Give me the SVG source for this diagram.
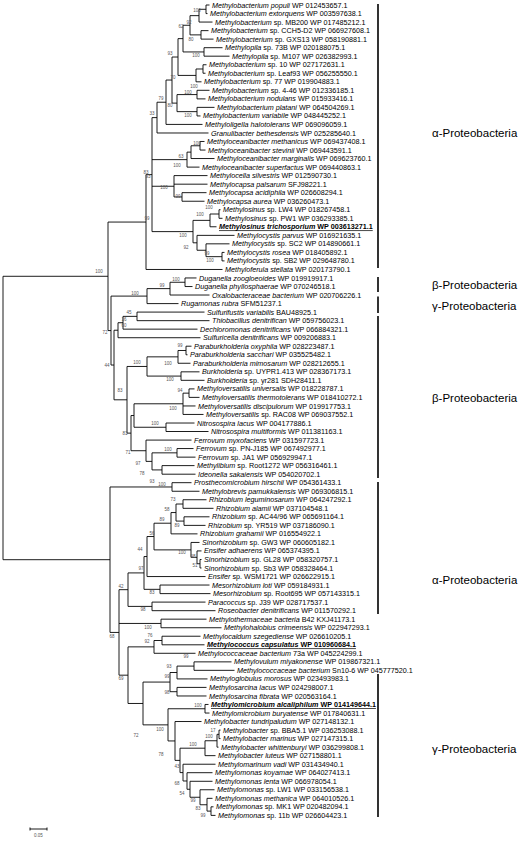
<svg xmlns="http://www.w3.org/2000/svg" width="522" height="844" viewBox="0 0 522 844">
<style>
.b{fill:none;stroke:#000;stroke-width:0.9}
.bar{fill:none;stroke:#000;stroke-width:1.6}
.t{font-family:"Liberation Sans",Arial,sans-serif;font-size:7.2px;fill:#000}
.i{font-style:italic}
.u{font-weight:bold;text-decoration:underline}
.k{font-family:"Liberation Sans",Arial,sans-serif;font-size:4.5px;fill:#555;text-anchor:middle}
.c{font-family:"Liberation Sans",Arial,sans-serif;font-size:11.5px;fill:#000}
</style>
<rect width="522" height="844" fill="#fff"/>
<g transform="matrix(1 0 0 0.98613 0 2.5347)">
<g id="connectors">
<path class="b" d="M209.5 2.5H206V11.2H207.5"/>
<path class="b" d="M206 6.85H199V19.8H212.5"/>
<path class="b" d="M208.5 28.5H201V37.1H213.5"/>
<path class="b" d="M199 13.3H190V32.8H201"/>
<path class="b" d="M222.5 45.8H204V54.4H229.5"/>
<path class="b" d="M190 23.05H183V50.1H204"/>
<path class="b" d="M206.5 63.1H203V71.7H205.5"/>
<path class="b" d="M203 67.4H196V80.4H201.5"/>
<path class="b" d="M183 36.6H178V73.9H196"/>
<path class="b" d="M209.5 89H197V97.7H205.5"/>
<path class="b" d="M214.5 106.3H197V115H200.5"/>
<path class="b" d="M197 93.35H177V110.65H197"/>
<path class="b" d="M178 55.25H172V102H177"/>
<path class="b" d="M172 78.6H166V123.6H202.5"/>
<path class="b" d="M166 101.1H157V132.3H208.5"/>
<path class="b" d="M204.5 140.9H200V149.6H205.5"/>
<path class="b" d="M200 145.25H191V158.2H214.5"/>
<path class="b" d="M191 151.7H187V166.9H199.5"/>
<path class="b" d="M206.5 192.8H182V201.5H204.5"/>
<path class="b" d="M207.5 175.5H174V197.15H182M174 184.2H207.5"/>
<path class="b" d="M220.5 210.1H219V218.8H222.5"/>
<path class="b" d="M219 214.45H210V227.4H216.5"/>
<path class="b" d="M224.5 253.4H222V262H224.5"/>
<path class="b" d="M229.5 244.7H206V257.7H222"/>
<path class="b" d="M234.5 236.1H197V251.2H206"/>
<path class="b" d="M210 220.9H193V243.65H197"/>
<path class="b" d="M157 116.7H152V232.3H193M152 159.3H187M152 186.3H174"/>
<path class="b" d="M152 174.5H146V270.7H222.5"/>
<path class="b" d="M196.5 279.3H185V288H192.5"/>
<path class="b" d="M185 283.65H170V296.6H209.5"/>
<path class="b" d="M170 290.1H147V305.3H178.5"/>
<path class="b" d="M204.5 313.9H137V322.6H209.5"/>
<path class="b" d="M137 318.25H123V331.2H197.5"/>
<path class="b" d="M123 324.7H118V339.9H200.5"/>
<path class="b" d="M191.5 348.5H186V357.2H187.5"/>
<path class="b" d="M186 352.85H178V365.8H190.5"/>
<path class="b" d="M199.5 374.5H181V383.1H204.5"/>
<path class="b" d="M178 359.3H147V378.8H181"/>
<path class="b" d="M194.5 391.8H189V400.4H199.5"/>
<path class="b" d="M189 396.1H183V417.7H203.5M183 409.1H195.5"/>
<path class="b" d="M194.5 426.4H166V435H208.5"/>
<path class="b" d="M183 406.9H134V430.7H166"/>
<path class="b" d="M193.5 452.3H177V461H195.5"/>
<path class="b" d="M194.5 469.6H162V478.3H195.5"/>
<path class="b" d="M177 456.65H152V473.95H162"/>
<path class="b" d="M191.5 443.7H146V465.3H152"/>
<path class="b" d="M134 418.8H131V454.5H146"/>
<path class="b" d="M147 369.05H127V436.65H131"/>
<path class="b" d="M118 332.3H114V402.85H127"/>
<path class="b" d="M147 297.7H111V367.6H114"/>
<path class="b" d="M146 222.6H108V332.65H111"/>
<path class="b" d="M191.5 486.9H172V495.6H199.5"/>
<path class="b" d="M206.5 504.2H183V512.9H213.5"/>
<path class="b" d="M209.5 521.5H184V530.2H205.5"/>
<path class="b" d="M183 508.55H176V525.85H184"/>
<path class="b" d="M176 517.2H171V538.8H197.5"/>
<path class="b" d="M201.5 564.8H200V573.4H201.5"/>
<path class="b" d="M201.5 556.1H197V569.1H200"/>
<path class="b" d="M199.5 547.5H191V562.6H197"/>
<path class="b" d="M171 528H154V555.05H191"/>
<path class="b" d="M154 541.5H147V582.1H205.5"/>
<path class="b" d="M209.5 590.7H160V599.4H210.5"/>
<path class="b" d="M147 561.8H144V595.05H160"/>
<path class="b" d="M205.5 608H152V616.7H215.5"/>
<path class="b" d="M144 578.4H128V612.35H152"/>
<path class="b" d="M206.5 625.3H161V634H221.5"/>
<path class="b" d="M200.5 642.6H162V651.3H204.5"/>
<path class="b" d="M162 646.95H154V659.9H195.5"/>
<path class="b" d="M231.5 668.6H194V677.2H234.5"/>
<path class="b" d="M194 672.9H177V685.9H207.5"/>
<path class="b" d="M206.5 694.5H177V703.2H206.5"/>
<path class="b" d="M177 679.4H170V698.85H177"/>
<path class="b" d="M208.5 711.8H205V720.5H209.5"/>
<path class="b" d="M220.5 737.8H219V746.4H220.5"/>
<path class="b" d="M219 742.1H217V755.1H218.5"/>
<path class="b" d="M217 748.6H205V763.7H215.5"/>
<path class="b" d="M213.5 815.6H211V824.3H215.5"/>
<path class="b" d="M212.5 807H207V819.95H211"/>
<path class="b" d="M214.5 798.3H200V813.5H207"/>
<path class="b" d="M212.5 789.7H190V805.9H200"/>
<path class="b" d="M212.5 781H187V797.8H190"/>
<path class="b" d="M215.5 772.4H183V789.4H187"/>
<path class="b" d="M205 756.15H180V780.9H183"/>
<path class="b" d="M201.5 729.1H175V768.5H180"/>
<path class="b" d="M205 716.15H168V748.8H175"/>
<path class="b" d="M170 689.1H143V732.5H168"/>
<path class="b" d="M154 653.4H128V710.8H143"/>
<path class="b" d="M128 595.4H119V682.1H128M119 629.65H161"/>
<path class="b" d="M172 491.25H110V638.75H119"/>
<path class="b" d="M108 277.6H3V565H110"/>
</g>
<g id="bootstrap">
<text class="k" x="197" y="9.5">100</text><text class="k" x="189" y="21.5">92</text><text class="k" x="181" y="25.5">62</text><text class="k" x="191" y="39.5">80</text><text class="k" x="196" y="55.5">100</text><text class="k" x="170" y="53.5">93</text>
<text class="k" x="173" y="77.5">70</text><text class="k" x="194" y="86.5">100</text><text class="k" x="188" y="92.5">100</text><text class="k" x="161" y="98.5">79</text><text class="k" x="170" y="105.5">80</text><text class="k" x="188" y="116.5">100</text><text class="k" x="152" y="114.5">33</text>
<text class="k" x="197" y="144.5">100</text><text class="k" x="181" y="157.5">63</text><text class="k" x="177" y="166.5">100</text><text class="k" x="146" y="173.5">83</text><text class="k" x="148" y="177.5">93</text><text class="k" x="164" y="189.5">100</text><text class="k" x="178" y="198.5">99</text>
<text class="k" x="209" y="209.5">100</text><text class="k" x="200" y="216.5">100</text><text class="k" x="147" y="220.5">99</text><text class="k" x="183" y="237.5">100</text><text class="k" x="186" y="249.5">92</text><text class="k" x="207" y="256">99</text><text class="k" x="210" y="263.5">100</text>
<text class="k" x="99" y="274.5">100</text><text class="k" x="176" y="282.5">100</text><text class="k" x="162" y="288.5">99</text><text class="k" x="135" y="296.5">100</text><text class="k" x="129" y="315.5">45</text><text class="k" x="124" y="322.5">16</text><text class="k" x="124" y="329.5">60</text><text class="k" x="105" y="336.5">72</text><text class="k" x="180" y="349.5">99</text>
<text class="k" x="168" y="367.5">100</text><text class="k" x="137" y="366.5">100</text><text class="k" x="107" y="369.5">44</text><text class="k" x="170" y="383.5">100</text><text class="k" x="120" y="394.5">83</text><text class="k" x="180" y="394.5">94</text><text class="k" x="173" y="413.5">100</text>
<text class="k" x="155" y="428.5">100</text><text class="k" x="125" y="438.5">81</text><text class="k" x="168" y="454.5">100</text><text class="k" x="128" y="457.5">71</text><text class="k" x="138" y="468.5">97</text><text class="k" x="142" y="479.5">78</text><text class="k" x="152" y="487.5">93</text><text class="k" x="162" y="490.5">100</text>
<text class="k" x="173" y="505.5">73</text><text class="k" x="167" y="515.5">58</text><text class="k" x="162" y="525.5">89</text><text class="k" x="177" y="531.5">89</text><text class="k" x="152" y="539.5">56</text><text class="k" x="140" y="556.5">44</text><text class="k" x="182" y="559.5">100</text>
<text class="k" x="193" y="563.5">98</text><text class="k" x="195" y="572.5">51</text><text class="k" x="141" y="575.5">97</text><text class="k" x="121" y="593.5">42</text><text class="k" x="152" y="599.5">83</text><text class="k" x="143" y="617.5">98</text>
<text class="k" x="148" y="635.5">100</text><text class="k" x="112" y="644.5">68</text><text class="k" x="150" y="643.5">76</text><text class="k" x="147" y="649.5">92</text><text class="k" x="186" y="664.5">99</text><text class="k" x="169" y="674.5">93</text><text class="k" x="167" y="684.5">99</text><text class="k" x="121" y="687.5">69</text><text class="k" x="167" y="701.5">98</text>
<text class="k" x="198" y="714.5">100</text><text class="k" x="160" y="738.5">100</text><text class="k" x="213" y="739.5">17</text><text class="k" x="136" y="744.5">72</text><text class="k" x="209" y="745.5">100</text><text class="k" x="193" y="753.5">100</text><text class="k" x="161" y="764.5">78</text>
<text class="k" x="177" y="776.5">43</text><text class="k" x="177" y="793.5">68</text><text class="k" x="182" y="803.5">54</text><text class="k" x="193" y="810.5">99</text><text class="k" x="198" y="818.5">83</text><text class="k" x="203" y="825.5">99</text>
</g>
<g id="leaves">
<g id="n1"><text class="t" x="212" y="5.1"><tspan class="i">Methylobacterium populi</tspan> WP 012453657.1</text></g>
<g id="n2"><text class="t" x="210" y="13.8"><tspan class="i">Methylobacterium extorquens</tspan> WP 003597638.1</text></g>
<g id="n3"><text class="t" x="215" y="22.4"><tspan class="i">Methylobacterium</tspan> sp. MB200 WP 017485212.1</text></g>
<g id="n4"><text class="t" x="211" y="31.1"><tspan class="i">Methylobacterium</tspan> sp. CCH5-D2 WP 066927608.1</text></g>
<g id="n5"><text class="t" x="216" y="39.7"><tspan class="i">Methylobacterium</tspan> sp. GXS13 WP 058190881.1</text></g>
<g id="n6"><text class="t" x="225" y="48.4"><tspan class="i">Methylopila</tspan> sp. 73B WP 020188075.1</text></g>
<g id="n7"><text class="t" x="232" y="57"><tspan class="i">Methylopila</tspan> sp. M107 WP 026382993.1</text></g>
<g id="n8"><text class="t" x="209" y="65.7"><tspan class="i">Methylobacterium</tspan> sp. 10 WP 027172631.1</text></g>
<g id="n9"><text class="t" x="208" y="74.3"><tspan class="i">Methylobacterium</tspan> sp. Leaf93 WP 056255550.1</text></g>
<g id="n10"><text class="t" x="204" y="83"><tspan class="i">Methylobacterium</tspan> sp. 77 WP 019904883.1</text></g>
<g id="n11"><text class="t" x="212" y="91.6"><tspan class="i">Methylobacterium</tspan> sp. 4-46 WP 012336185.1</text></g>
<g id="n12"><text class="t" x="208" y="100.3"><tspan class="i">Methylobacterium nodulans</tspan> WP 015933416.1</text></g>
<g id="n13"><text class="t" x="217" y="108.9"><tspan class="i">Methylobacterium platani</tspan> WP 064504269.1</text></g>
<g id="n14"><text class="t" x="203" y="117.6"><tspan class="i">Methylobacterium variabile</tspan> WP 048445252.1</text></g>
<g id="n15"><text class="t" x="205" y="126.2"><tspan class="i">Methyloligella halotolerans</tspan> WP 069096059.1</text></g>
<g id="n16"><text class="t" x="211" y="134.9"><tspan class="i">Granulibacter bethesdensis</tspan> WP 025285640.1</text></g>
<g id="n17"><text class="t" x="207" y="143.5"><tspan class="i">Methyloceanibacter methanicus</tspan> WP 069437408.1</text></g>
<g id="n18"><text class="t" x="208" y="152.2"><tspan class="i">Methyloceanibacter stevinii</tspan> WP 069443591.1</text></g>
<g id="n19"><text class="t" x="217" y="160.8"><tspan class="i">Methyloceanibacter marginalis</tspan> WP 069623760.1</text></g>
<g id="n20"><text class="t" x="202" y="169.5"><tspan class="i">Methyloceanibacter superfactus</tspan> WP 069440863.1</text></g>
<g id="n21"><text class="t" x="210" y="178.1"><tspan class="i">Methylocella silvestris</tspan> WP 012590730.1</text></g>
<g id="n22"><text class="t" x="210" y="186.8"><tspan class="i">Methylocapsa palsarum</tspan> SFJ98221.1</text></g>
<g id="n23"><text class="t" x="209" y="195.4"><tspan class="i">Methylocapsa acidiphila</tspan> WP 026608294.1</text></g>
<g id="n24"><text class="t" x="207" y="204.1"><tspan class="i">Methylocapsa aurea</tspan> WP 036260473.1</text></g>
<g id="n25"><text class="t" x="223" y="212.7"><tspan class="i">Methylosinus</tspan> sp. LW4 WP 018267458.1</text></g>
<g id="n26"><text class="t" x="225" y="221.4"><tspan class="i">Methylosinus</tspan> sp. PW1 WP 036293385.1</text></g>
<g id="n27"><text class="t u" x="219" y="230"><tspan class="i">Methylosinus trichosporium</tspan> WP 003613271.1</text></g>
<g id="n28"><text class="t" x="237" y="238.7"><tspan class="i">Methylocystis parvus</tspan> WP 016921635.1</text></g>
<g id="n29"><text class="t" x="232" y="247.3"><tspan class="i">Methylocystis</tspan> sp. SC2 WP 014890661.1</text></g>
<g id="n30"><text class="t" x="227" y="256"><tspan class="i">Methylocystis rosea</tspan> WP 018405892.1</text></g>
<g id="n31"><text class="t" x="227" y="264.6"><tspan class="i">Methylocystis</tspan> sp. SB2 WP 029648780.1</text></g>
<g id="n32"><text class="t" x="225" y="273.3"><tspan class="i">Methyloferula stellata</tspan> WP 020173790.1</text></g>
<g id="n33"><text class="t" x="199" y="281.9"><tspan class="i">Duganella zoogloeoides</tspan> WP 019919917.1</text></g>
<g id="n34"><text class="t" x="195" y="290.6"><tspan class="i">Duganella phyllosphaerae</tspan> WP 070246518.1</text></g>
<g id="n35"><text class="t" x="212" y="299.2"><tspan class="i">Oxalobacteraceae bacterium</tspan> WP 020706226.1</text></g>
<g id="n36"><text class="t" x="181" y="307.9"><tspan class="i">Rugamonas rubra</tspan> SFM51237.1</text></g>
<g id="n37"><text class="t" x="207" y="316.5"><tspan class="i">Sulfurifustis variabilis</tspan> BAU48925.1</text></g>
<g id="n38"><text class="t" x="212" y="325.2"><tspan class="i">Thiobacillus denitrifican</tspan> WP 059756023.1</text></g>
<g id="n39"><text class="t" x="200" y="333.8"><tspan class="i">Dechloromonas denitrificans</tspan> WP 066884321.1</text></g>
<g id="n40"><text class="t" x="203" y="342.5"><tspan class="i">Sulfuricella denitrificans</tspan> WP 009206883.1</text></g>
<g id="n41"><text class="t" x="194" y="351.1"><tspan class="i">Paraburkholderia oxyphila</tspan> WP 028223487.1</text></g>
<g id="n42"><text class="t" x="190" y="359.8"><tspan class="i">Paraburkholderia sacchari</tspan> WP 035525482.1</text></g>
<g id="n43"><text class="t" x="193" y="368.4"><tspan class="i">Paraburkholderia mimosarum</tspan> WP 028212655.1</text></g>
<g id="n44"><text class="t" x="202" y="377.1"><tspan class="i">Burkholderia</tspan> sp. UYPR1.413 WP 028367173.1</text></g>
<g id="n45"><text class="t" x="207" y="385.7"><tspan class="i">Burkholderia</tspan> sp. yr281 SDH28411.1</text></g>
<g id="n46"><text class="t" x="197" y="394.4"><tspan class="i">Methyloversatilis universalis</tspan> WP 018228787.1</text></g>
<g id="n47"><text class="t" x="202" y="403"><tspan class="i">Methyloversatilis thermotolerans</tspan> WP 018410272.1</text></g>
<g id="n48"><text class="t" x="198" y="411.7"><tspan class="i">Methyloversatilis discipulorum</tspan> WP 019917753.1</text></g>
<g id="n49"><text class="t" x="206" y="420.3"><tspan class="i">Methyloversatilis</tspan> sp. RAC08 WP 069037552.1</text></g>
<g id="n50"><text class="t" x="197" y="429"><tspan class="i">Nitrosospira lacus</tspan> WP 004177886.1</text></g>
<g id="n51"><text class="t" x="211" y="437.6"><tspan class="i">Nitrosospira multiformis</tspan> WP 011381163.1</text></g>
<g id="n52"><text class="t" x="194" y="446.3"><tspan class="i">Ferrovum myxofaciens</tspan> WP 031597723.1</text></g>
<g id="n53"><text class="t" x="196" y="454.9"><tspan class="i">Ferrovum</tspan> sp. PN-J185 WP 067492977.1</text></g>
<g id="n54"><text class="t" x="198" y="463.6"><tspan class="i">Ferrovum</tspan> sp. JA1 WP 056929947.1</text></g>
<g id="n55"><text class="t" x="197" y="472.2"><tspan class="i">Methylibium</tspan> sp. Root1272 WP 056316461.1</text></g>
<g id="n56"><text class="t" x="198" y="480.9"><tspan class="i">Ideonella sakaiensis</tspan> WP 054020702.1</text></g>
<g id="n57"><text class="t" x="194" y="489.5"><tspan class="i">Prosthecomicrobium hirschii</tspan> WP 054361433.1</text></g>
<g id="n58"><text class="t" x="202" y="498.2"><tspan class="i">Methylobrevis pamukkalensis</tspan> WP 069306815.1</text></g>
<g id="n59"><text class="t" x="209" y="506.8"><tspan class="i">Rhizobium leguminosarum</tspan> WP 064247292.1</text></g>
<g id="n60"><text class="t" x="216" y="515.5"><tspan class="i">Rhizobium alamii</tspan> WP 037104548.1</text></g>
<g id="n61"><text class="t" x="212" y="524.1"><tspan class="i">Rhizobium</tspan> sp. AC44/96 WP 065691164.1</text></g>
<g id="n62"><text class="t" x="208" y="532.8"><tspan class="i">Rhizobium</tspan> sp. YR519 WP 037186090.1</text></g>
<g id="n63"><text class="t" x="200" y="541.4"><tspan class="i">Rhizobium grahamii</tspan> WP 016554922.1</text></g>
<g id="n64"><text class="t" x="202" y="550.1"><tspan class="i">Sinorhizobium</tspan> sp. GW3 WP 060605182.1</text></g>
<g id="n65"><text class="t" x="204" y="558.7"><tspan class="i">Ensifer adhaerens</tspan> WP 065374395.1</text></g>
<g id="n66"><text class="t" x="204" y="567.4"><tspan class="i">Sinorhizobium</tspan> sp. GL28 WP 058320757.1</text></g>
<g id="n67"><text class="t" x="204" y="576"><tspan class="i">Sinorhizobium</tspan> sp. Sb3 WP 058328464.1</text></g>
<g id="n68"><text class="t" x="208" y="584.7"><tspan class="i">Ensifer</tspan> sp. WSM1721 WP 026622915.1</text></g>
<g id="n69"><text class="t" x="212" y="593.3"><tspan class="i">Mesorhizobium loti</tspan> WP 059184931.1</text></g>
<g id="n70"><text class="t" x="213" y="602"><tspan class="i">Mesorhizobium</tspan> sp. Root695 WP 057143315.1</text></g>
<g id="n71"><text class="t" x="208" y="610.6"><tspan class="i">Paracoccus</tspan> sp. J39 WP 028717537.1</text></g>
<g id="n72"><text class="t" x="218" y="619.3"><tspan class="i">Roseobacter denitrificans</tspan> WP 011570292.1</text></g>
<g id="n73"><text class="t" x="209" y="627.9"><tspan class="i">Methylothermaceae bacteria</tspan> B42 KXJ41173.1</text></g>
<g id="n74"><text class="t" x="224" y="636.6"><tspan class="i">Methylohalobius crimeensis</tspan> WP 022947293.1</text></g>
<g id="n75"><text class="t" x="203" y="645.2"><tspan class="i">Methylocaldum szegediense</tspan> WP 026610205.1</text></g>
<g id="n76"><text class="t u" x="207" y="653.9"><tspan class="i">Methylococcus capsulatus</tspan> WP 010960684.1</text></g>
<g id="n77"><text class="t" x="198" y="662.5"><tspan class="i">Methylococcaceae bacterium</tspan> 73a WP 045224299.1</text></g>
<g id="n78"><text class="t" x="234" y="671.2"><tspan class="i">Methylovulum miyakonense</tspan> WP 019867321.1</text></g>
<g id="n79"><text class="t" x="237" y="679.8"><tspan class="i">Methylococcaceae bacterium</tspan> Sn10-6 WP 045777520.1</text></g>
<g id="n80"><text class="t" x="210" y="688.5"><tspan class="i">Methyloglobulus morosus</tspan> WP 023493983.1</text></g>
<g id="n81"><text class="t" x="209" y="697.1"><tspan class="i">Methylosarcina lacus</tspan> WP 024298007.1</text></g>
<g id="n82"><text class="t" x="209" y="705.8"><tspan class="i">Methylosarcina fibrata</tspan> WP 020563164.1</text></g>
<g id="n83"><text class="t u" x="211" y="714.4"><tspan class="i">Methylomicrobium alcaliphilum</tspan> WP 014149644.1</text></g>
<g id="n84"><text class="t" x="212" y="723.1"><tspan class="i">Methylomicrobium buryatense</tspan> WP 017840631.1</text></g>
<g id="n85"><text class="t" x="204" y="731.7"><tspan class="i">Methylobacter tundripaludum</tspan> WP 027148132.1</text></g>
<g id="n86"><text class="t" x="223" y="740.4"><tspan class="i">Methylobacter</tspan> sp. BBA5.1 WP 036253088.1</text></g>
<g id="n87"><text class="t" x="223" y="749"><tspan class="i">Methylobacter marinus</tspan> WP 027147315.1</text></g>
<g id="n88"><text class="t" x="221" y="757.7"><tspan class="i">Methylobacter whittenburyi</tspan> WP 036299808.1</text></g>
<g id="n89"><text class="t" x="218" y="766.3"><tspan class="i">Methylobacter luteus</tspan> WP 027158801.1</text></g>
<g id="n90"><text class="t" x="218" y="775"><tspan class="i">Methylomarinum vadi</tspan> WP 031434940.1</text></g>
<g id="n91"><text class="t" x="215" y="783.6"><tspan class="i">Methylomonas koyamae</tspan> WP 064027413.1</text></g>
<g id="n92"><text class="t" x="215" y="792.3"><tspan class="i">Methylomonas lenta</tspan> WP 066978054.1</text></g>
<g id="n93"><text class="t" x="217" y="800.9"><tspan class="i">Methylomonas</tspan> sp. LW1 WP 033156538.1</text></g>
<g id="n94"><text class="t" x="215" y="809.6"><tspan class="i">Methylomonas methanica</tspan> WP 064010526.1</text></g>
<g id="n95"><text class="t" x="216" y="818.2"><tspan class="i">Methylomonas</tspan> sp. MK1 WP 020482094.1</text></g>
<g id="n96"><text class="t" x="218" y="826.9"><tspan class="i">Methylomonas</tspan> sp. 11b WP 026604423.1</text></g>
</g>
</g>
<g id="groups">
<path class="bar" d="M378 4V268M378 277V292M378 296.5V313M378 316V478M378 482V614M378 674V817"/>
<text class="c" x="432" y="137">α-Proteobacteria</text>
<text class="c" x="432" y="289">β-Proteobacteria</text>
<text class="c" x="432" y="310">γ-Proteobacteria</text>
<text class="c" x="432" y="402">β-Proteobacteria</text>
<text class="c" x="432" y="584">α-Proteobacteria</text>
<text class="c" x="432" y="753">γ-Proteobacteria</text>
</g>
<g id="scale">
<path class="b" d="M30 829H47M30 827.5V830.5M47 827.5V830.5"/>
<text class="k" x="38.5" y="837">0.05</text>
</g>
</svg>
